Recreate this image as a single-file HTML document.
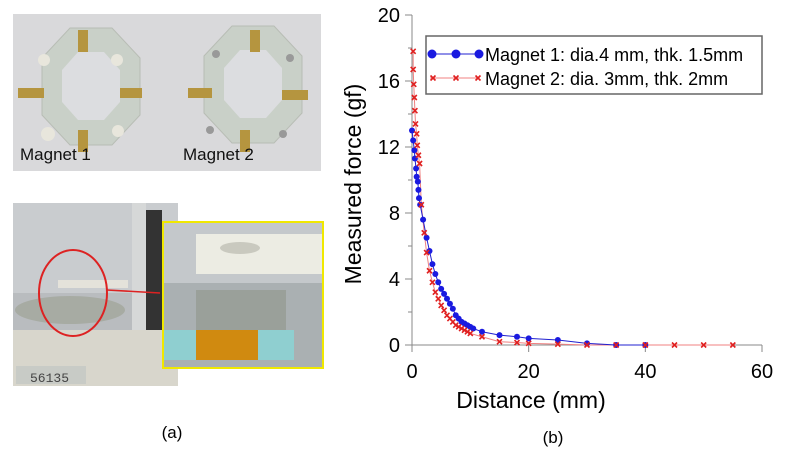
<!DOCTYPE html>
<html><head><meta charset="utf-8"><style>
body{margin:0;width:788px;height:454px;background:#fff;overflow:hidden;font-family:"Liberation Sans",sans-serif;}
svg{position:absolute;left:0;top:0}
</style></head><body>
<svg width="788" height="454">
 <!-- Panel a: photos -->
 <g>
  <rect x="13" y="14" width="308" height="157" fill="#d9d9db"/>
  <polygon points="70,28 112,28 140,58 140,115 112,145 70,145 42,115 42,58" fill="#c9d0c8" stroke="#b8bdb5"/>
  <polygon points="78,52 104,52 120,70 120,102 104,120 78,120 62,102 62,70" fill="#dcdde0"/>
  <polygon points="232,26 274,26 302,56 302,113 274,143 232,143 204,113 204,56" fill="#c9d0c8" stroke="#b8bdb5"/>
  <polygon points="240,50 266,50 282,68 282,100 266,118 240,118 224,100 224,68" fill="#dcdde0"/>
  <g fill="#b5953f">
   <rect x="78" y="30" width="10" height="22"/><rect x="18" y="88" width="26" height="10"/><rect x="120" y="88" width="22" height="10"/><rect x="78" y="130" width="10" height="22"/>
   <rect x="250" y="30" width="10" height="22"/><rect x="188" y="88" width="24" height="10"/><rect x="282" y="90" width="26" height="10"/><rect x="240" y="130" width="10" height="22"/>
  </g>
  <g fill="#e8e6dc"><circle cx="44" cy="60" r="6"/><circle cx="117" cy="60" r="6"/><circle cx="48" cy="134" r="7"/><circle cx="118" cy="131" r="6"/></g>
  <g fill="#999"><circle cx="216" cy="54" r="4"/><circle cx="290" cy="58" r="4"/><circle cx="210" cy="130" r="4"/><circle cx="283" cy="134" r="4"/></g>
  <text x="20" y="160" font-family="Liberation Sans,sans-serif" font-size="17" fill="#111">Magnet 1</text>
  <text x="183" y="160" font-family="Liberation Sans,sans-serif" font-size="17" fill="#111">Magnet 2</text>
 </g>
 <g>
  <rect x="13" y="203" width="165" height="183" fill="#b9bcbf"/>
  <rect x="13" y="203" width="165" height="90" fill="#c9cccf"/>
  <rect x="132" y="203" width="14" height="150" fill="#d6d8d8"/>
  <rect x="146" y="210" width="16" height="130" fill="#333"/>
  <rect x="13" y="330" width="165" height="56" fill="#d8d6cc"/>
  <ellipse cx="70" cy="310" rx="55" ry="14" fill="#a7aba3"/>
  <rect x="58" y="280" width="70" height="8" fill="#e4e2da"/>
  <ellipse cx="73" cy="293" rx="34" ry="43" fill="none" stroke="#d22" stroke-width="2"/>
  <line x1="107" y1="290" x2="160" y2="293" stroke="#d22" stroke-width="1.5"/>
  <rect x="16" y="366" width="70" height="18" fill="#c8cbc6"/>
  <text x="30" y="382" font-size="13" fill="#444" font-family="Liberation Mono,monospace">56135</text>
  <rect x="163" y="222" width="160" height="146" fill="#aab0b2" stroke="#f0e800" stroke-width="2"/>
  <rect x="164" y="223" width="158" height="60" fill="#c4c8cb"/>
  <rect x="196" y="234" width="126" height="40" fill="#ecece3"/>
  <ellipse cx="240" cy="248" rx="20" ry="6" fill="#c9c9bf"/>
  <rect x="164" y="330" width="130" height="30" fill="#8fcfd0"/>
  <rect x="196" y="330" width="62" height="30" fill="#d08a10"/>
  <rect x="196" y="290" width="90" height="40" fill="#9aa09a"/>
 </g>
 <text x="172" y="438" text-anchor="middle" font-size="17" font-family="Liberation Sans,sans-serif">(a)</text>
 <text x="553" y="443" text-anchor="middle" font-size="17" font-family="Liberation Sans,sans-serif">(b)</text>
 <g id="chart"></g>
</svg>
<script>
const xTicks=[0,20,40,60];
const yTicks=[0,4,8,12,16,20];
const m1x=[0,0.2,0.4,0.5,0.7,0.8,1.0,1.1,1.2,1.4,1.9,2.5,3,3.5,4,4.5,5,5.5,6,6.5,7,7.5,8,8.5,9,9.5,10,10.5,12,15,18,20,25,30,35,40];
const m1y=[13.0,12.4,11.8,11.3,10.7,10.2,9.9,9.4,8.9,8.5,7.6,6.5,5.7,4.9,4.3,3.8,3.4,3.1,2.8,2.5,2.2,1.8,1.6,1.4,1.3,1.2,1.1,1.0,0.8,0.6,0.5,0.4,0.3,0.1,0,0];
const m2x=[0.2,0.2,0.3,0.4,0.5,0.6,0.8,0.9,1.1,1.3,1.6,2.1,2.5,3,3.5,4,4.5,5,5.5,6,6.5,7,7.5,8,8.5,9,9.5,10,12,15,18,20,25,30,35,40,45,50,55];
const m2y=[17.8,16.7,15.8,15.0,14.2,13.4,12.8,12.1,11.5,11.0,8.5,6.8,5.6,4.5,3.8,3.2,2.8,2.4,2.1,1.8,1.6,1.4,1.2,1.1,1.0,0.9,0.8,0.7,0.5,0.2,0.15,0.1,0.05,0,0,0,0,0,0];
const NS='http://www.w3.org/2000/svg';
const g=document.getElementById('chart');
const X=v=>412+v*(762-412)/60, Y=v=>345-v*(345-15)/20;
function mk(t,a,p){const e=document.createElementNS(NS,t);for(const k in a)e.setAttribute(k,a[k]);(p||g).appendChild(e);return e;}
let e;
e=mk('line',{x1:412,y1:15,x2:412,y2:345,stroke:'#888'});


e=mk('line',{x1:412,y1:345,x2:762,y2:345,stroke:'#888'});


xTicks.forEach(v=>{mk('line',{x1:X(v),y1:345,x2:X(v),y2:352,stroke:'#888'});
 e=mk('text',{x:X(v),y:378,'text-anchor':'middle','font-size':20});e.textContent=v;
 
 });
yTicks.forEach(v=>{mk('line',{x1:405,y1:Y(v),x2:412,y2:Y(v),stroke:'#888'});
 if(v<20)mk('line',{x1:408,y1:Y(v+2),x2:412,y2:Y(v+2),stroke:'#888'});
 e=mk('text',{x:400,y:Y(v)+7,'text-anchor':'end','font-size':20});e.textContent=v;
 
 });
e=mk('text',{x:531,y:408,'text-anchor':'middle','font-size':23});e.textContent='Distance (mm)';


e=mk('text',{x:0,y:0,'text-anchor':'middle','font-size':23,transform:'translate(361,184) rotate(-90)'});e.textContent='Measured force (gf)';


function cross(x,y,p){const d=2.5;mk('path',{d:`M${x-d},${y-d}L${x+d},${y+d}M${x-d},${y+d}L${x+d},${y-d}`,stroke:'#e02020','stroke-width':1.6},p);}
e=mk('polyline',{points:m2x.map((v,i)=>X(v)+','+Y(m2y[i])).join(' '),fill:'none',stroke:'#f08080','stroke-width':1});


e=mk('polyline',{points:m1x.map((v,i)=>X(v)+','+Y(m1y[i])).join(' '),fill:'none',stroke:'#2020d0','stroke-width':1});


m1x.forEach((v,i)=>{e=mk('circle',{cx:X(v),cy:Y(m1y[i]),r:3,fill:'#1a1ae0'});
 
 });
m2x.forEach((v,i)=>cross(X(v),Y(m2y[i])));
// legend
const lg=mk('g',{});


mk('rect',{x:426,y:36,width:336,height:58,fill:'#fff',stroke:'#666','stroke-width':1.5},lg);
mk('line',{x1:430,y1:54,x2:478,y2:54,stroke:'#2020d0'},lg);
[432,456,479].forEach(x=>mk('circle',{cx:x,cy:54,r:4.5,fill:'#1a1ae0'},lg));
e=mk('text',{x:485,y:61,'font-size':18},lg);e.textContent='Magnet 1: dia.4 mm, thk. 1.5mm';


mk('line',{x1:430,y1:78,x2:478,y2:78,stroke:'#f08080'},lg);
[433,456,478].forEach(x=>cross(x,78,lg));
e=mk('text',{x:485,y:85,'font-size':18},lg);e.textContent='Magnet 2: dia. 3mm, thk. 2mm';


</script>
</body></html>
